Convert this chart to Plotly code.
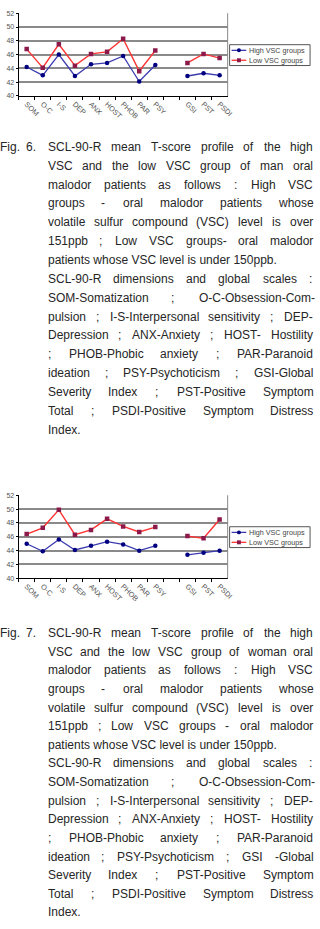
import plotly.graph_objects as go

# ---------------- data ----------------
categories = ["SOM", "O-C", "I-S", "DEP", "ANX", "HOST", "PHOB", "PAR", "PSY", " ", "GSI", "PST", "PSDI"]
series_names = ["High VSC groups", "Low VSC groups"]
man_high = [44.2, 43.0, 46.0, 42.9, 44.6, 44.8, 45.8, 42.1, 44.5, None, 42.9, 43.3, 43.0]
man_low = [46.8, 44.1, 47.5, 44.4, 46.1, 46.4, 48.3, 43.6, 46.6, None, 44.8, 46.1, 45.5]
woman_high = [45.0, 43.9, 45.6, 44.1, 44.7, 45.3, 44.9, 44.0, 44.7, None, 43.4, 43.7, 44.0]
woman_low = [46.4, 47.3, 49.9, 46.3, 47.0, 48.6, 47.5, 46.7, 47.4, None, 46.1, 45.8, 48.5]
y_ticks = [40, 42, 44, 46, 48, 50, 52]

caption1 = [
    "SCL-90-R mean T-score profile of the high",
    "VSC and the low VSC group of man oral",
    "malodor patients as follows : High VSC",
    "groups - oral malodor patients whose",
    "volatile sulfur compound (VSC) level is over",
    "151ppb ; Low VSC groups- oral malodor",
    "patients whose VSC level is under 150ppb.",
    "SCL-90-R dimensions and global scales :",
    "SOM-Somatization ; O-C-Obsession-Com-",
    "pulsion ; I-S-Interpersonal sensitivity ; DEP-",
    "Depression ; ANX-Anxiety ; HOST- Hostility",
    "; PHOB-Phobic anxiety ; PAR-Paranoid",
    "ideation ; PSY-Psychoticism ; GSI-Global",
    "Severity Index ; PST-Positive Symptom",
    "Total ; PSDI-Positive Symptom Distress",
    "Index.",
]
caption2 = [
    "SCL-90-R mean T-score profile of the high",
    "VSC and the low VSC group of woman oral",
    "malodor patients as follows : High VSC",
    "groups - oral malodor patients whose",
    "volatile sulfur compound (VSC) level is over",
    "151ppb ; Low VSC groups - oral malodor",
    "patients whose VSC level is under 150ppb.",
    "SCL-90-R dimensions and global scales :",
    "SOM-Somatization ; O-C-Obsession-Com-",
    "pulsion ; I-S-Interpersonal sensitivity ; DEP-",
    "Depression ; ANX-Anxiety ; HOST- Hostility",
    "; PHOB-Phobic anxiety ; PAR-Paranoid",
    "ideation ; PSY-Psychoticism ; GSI -Global",
    "Severity Index ; PST-Positive Symptom",
    "Total ; PSDI-Positive Symptom Distress",
    "Index.",
]
left_aligned_lines = {6, 15}

# ---------------- layout helpers ----------------
W, H = 320, 929
def px(p):
    return p / W
def py(p):
    return 1 - p / H

ARIAL = {' ': 278, '!': 278, '(': 333, ')': 333, ',': 278, '-': 333, '.': 278, ':': 278, ';': 278,
         'A': 667, 'B': 667, 'C': 722, 'D': 722, 'E': 667, 'F': 611, 'G': 778, 'H': 722, 'I': 278,
         'J': 500, 'K': 667, 'L': 556, 'M': 833, 'N': 722, 'O': 778, 'P': 667, 'Q': 778, 'R': 722,
         'S': 667, 'T': 611, 'U': 722, 'V': 667, 'W': 944, 'X': 667, 'Y': 667, 'Z': 611,
         'a': 556, 'b': 556, 'c': 500, 'd': 556, 'e': 556, 'f': 278, 'g': 556, 'h': 556, 'i': 222,
         'j': 222, 'k': 500, 'l': 222, 'm': 833, 'n': 556, 'o': 556, 'p': 556, 'q': 556, 'r': 333,
         's': 500, 't': 278, 'u': 556, 'v': 500, 'w': 722, 'x': 500, 'y': 500, 'z': 500}
FS = 12
def text_w(s):
    return sum(ARIAL.get(c, 556) for c in s) * FS / 1000.0

CAP_FONT = dict(family="Liberation Sans, Arial, sans-serif", size=FS, color="#262626")
annotations = []
def add_word(txt, x, y):
    annotations.append(dict(text=txt, x=px(x), y=py(y), xref="paper", yref="paper",
                            xanchor="left", yanchor="middle", showarrow=False,
                            borderpad=0, borderwidth=0, font=CAP_FONT))

def add_caption(lines, fig_no, y0, dy, left=48.5, right=318.5):
    for i, line in enumerate(lines):
        y = y0 + i * dy
        l = left
        if i == 0:
            add_word("Fig.", 0.5, y)
            add_word(fig_no + ".", 27, y)
            l = 49
        if i in left_aligned_lines:
            add_word(line, l, y)
            continue
        words = line.split(" ")
        widths = [text_w(w) for w in words]
        gap = (right - l - sum(widths)) / (len(words) - 1)
        x = l
        for w, wd in zip(words, widths):
            add_word(w, x, y)
            x += wd + gap

add_caption(caption1, "6", 144, 19.0)
add_caption(caption2, "7", 634, 18.75)

# ---------------- figure ----------------
fig = go.Figure()
HIGH_LINE, HIGH_MK = "#3b3bb0", "#000080"
LOW_LINE, LOW_MK = "#ff3333", "#8b1a4a"

charts = [
    (man_high, man_low, "x", "y", 9.3, 92.7, 41),
    (woman_high, woman_low, "x2", "y2", 495, 578.7, 526.7),
]
shapes = []
for k, (hi, lo, xa, ya, top, bot, lg_top) in enumerate(charts):
    fig.add_trace(go.Scatter(x=categories, y=hi, xaxis=xa, yaxis=ya, mode="lines+markers",
                             name=series_names[0], showlegend=False,
                             line=dict(color=HIGH_LINE, width=1.3),
                             marker=dict(symbol="circle", size=4.5, color=HIGH_MK)))
    fig.add_trace(go.Scatter(x=categories, y=lo, xaxis=xa, yaxis=ya, mode="lines+markers",
                             name=series_names[1], showlegend=False,
                             line=dict(color=LOW_LINE, width=1.4),
                             marker=dict(symbol="square", size=4.5, color=LOW_MK)))
    sfx = "" if k == 0 else "2"
    fig.update_layout(**{
        "xaxis" + sfx: dict(domain=[px(19), px(232)], anchor="y" + sfx, type="category",
                            categoryorder="array", categoryarray=categories,
                            range=[-0.5, len(categories) - 0.5], showgrid=False,
                            showline=True, linecolor="#000", linewidth=1,
                            ticks="outside", ticklen=3, tickcolor="#000", tickson="boundaries",
                            tickangle=45, tickfont=dict(size=7.3, color="#555",
                                                        family="Liberation Sans, Arial, sans-serif"),
                            fixedrange=True),
        "yaxis" + sfx: dict(domain=[py(bot), py(top)], anchor="x" + sfx, range=[40, 52],
                            tickvals=y_ticks, showgrid=True, gridcolor="#8a8a8a", gridwidth=2,
                            zeroline=False, showline=True, linecolor="#000", linewidth=1,
                            ticks="outside", ticklen=2, tickcolor="#000",
                            tickfont=dict(size=7, color="#555",
                                          family="Liberation Sans, Arial, sans-serif"),
                            fixedrange=True),
    })
    # right border of plot area
    shapes.append(dict(type="line", xref="x%s domain" % sfx, yref="y%s domain" % sfx,
                       x0=1, x1=1, y0=0, y1=1, line=dict(color="#8a8a8a", width=1)))
    # legend (manual)
    shapes.append(dict(type="rect", xref="paper", yref="paper", x0=px(234), x1=px(316),
                       y0=py(lg_top + 21), y1=py(lg_top), line=dict(color="#555", width=1),
                       fillcolor="white"))
    for j, (lc, mc, sym) in enumerate([(HIGH_LINE, HIGH_MK, "circle"), (LOW_LINE, LOW_MK, "rect")]):
        yy = lg_top + 5.7 + 10 * j
        shapes.append(dict(type="line", xref="paper", yref="paper", x0=px(236), x1=px(251),
                           y0=py(yy), y1=py(yy), line=dict(color=lc, width=1.3)))
        shapes.append(dict(type=sym, xref="paper", yref="paper", x0=px(241.5), x1=px(245.5),
                           y0=py(yy + 2), y1=py(yy - 2), line=dict(color=mc, width=0),
                           fillcolor=mc))
        annotations.append(dict(text=series_names[j], x=px(254), y=py(yy), xref="paper",
                                yref="paper", xanchor="left", yanchor="middle", showarrow=False,
                                borderpad=0, borderwidth=0,
                                font=dict(size=7.2, color="#444",
                                          family="Liberation Sans, Arial, sans-serif")))

fig.update_layout(width=W, height=H, margin=dict(l=0, r=0, t=0, b=0),
                  paper_bgcolor="white", plot_bgcolor="white", showlegend=False,
                  shapes=shapes, annotations=annotations)
fig.write_html("out.html")
